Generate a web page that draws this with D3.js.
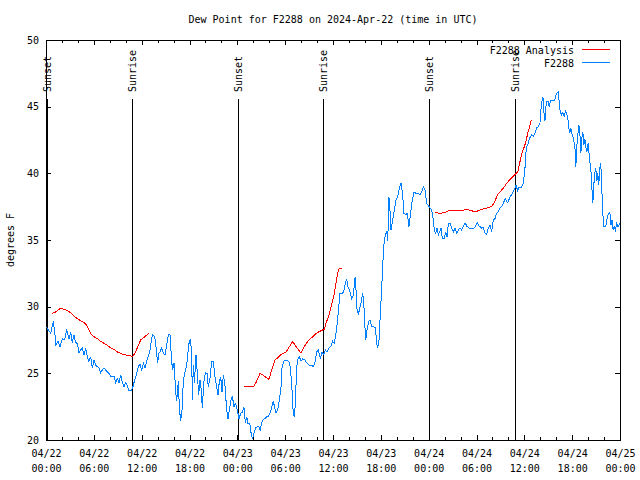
<!DOCTYPE html>
<html>
<head>
<meta charset="utf-8">
<script src="https://cdn.jsdelivr.net/npm/d3@7"></script>
<style>
body { margin: 0; background: #fff; }
svg text { font-family: "DejaVu Sans Mono", monospace; font-size: 10px; fill: #000; }
</style>
</head>
<body>
<div id="chart"></div>
<script>
// observed dew point (hours after 04/22 00:00 UTC, deg F), one array per day
var obsDay1 = [[0.08,28.45],[0.59,28.0],[0.92,28.9],[1.13,27.9],[1.25,27.1],[1.51,27.4],[1.76,27.0],[2.05,27.6],[2.34,27.5],[2.59,28.3],[2.89,27.6],[3.09,28.1],[3.30,27.3],[3.51,27.9],[3.72,27.3],[3.93,27.25],[4.14,26.5],[4.35,26.75],[4.56,26.9],[4.77,26.4],[4.98,26.9],[5.19,26.2],[5.39,25.9],[5.60,26.25],[5.81,25.4],[6.02,26.0],[6.23,25.6],[6.44,25.5],[6.65,25.4],[6.86,25.05],[7.07,25.25],[7.28,25.4],[7.49,25.25],[7.69,25.1],[7.90,25.0],[8.11,24.8],[8.53,24.8],[8.74,24.3],[8.95,24.6],[9.16,24.3],[9.37,24.9],[9.57,24.3],[9.78,24.0],[9.99,24.3],[10.20,24.1],[10.41,23.7],[10.70,23.7],[10.91,24.0],[11.12,24.5],[11.33,24.9],[11.58,25.5],[11.79,25.7],[12.0,25.25],[12.21,25.75],[12.42,25.4],[12.63,25.9],[12.84,26.3],[13.05,26.75],[13.21,27.4],[13.34,27.9],[13.63,27.75],[13.84,26.75],[14.0,25.75],[14.17,26.5],
  [14.30,26.6],[14.51,26.9],[14.72,26.5],[14.93,26.4],[15.14,27.1],[15.35,27.9],[15.55,27.9],[15.76,25.9],[15.89,25.25],[16.06,25.75],[16.27,23.6],[16.39,22.9],[16.60,24.4],[16.72,22.5],[16.89,21.4],[17.06,22.25],[17.23,24.5],[17.44,25.1],[17.65,25.6],[17.77,26.4],[17.94,27.25],[18.11,27.55],[18.27,26.5],[18.36,23.0],[18.48,25.6],[18.61,24.25],[18.82,26.4],[18.98,25.0],[19.15,23.4],[19.32,24.5],[19.48,23.75],[19.61,22.4],[19.78,24.25],[19.99,25.05],[20.20,25.0],[20.36,24.0],[20.57,24.6],[20.78,25.9],[20.99,25.9],[21.20,24.75],[21.41,24.0],[21.58,23.4],[21.74,24.4],[21.91,24.75],[22.08,23.6],[22.25,24.9],[22.45,24.1],[22.66,22.25],[22.83,21.6],[23.0,22.25],[23.17,22.9],[23.37,23.3],[23.58,22.5],[23.79,22.75]];
var obsDay2 = [[24.0,22.25],[24.21,21.6],[24.42,22.0],[24.63,22.1],[24.83,22.45],[25.0,21.3],[25.17,21.75],[25.33,21.25],[25.58,21.2],[25.7,20.6],[25.91,20.05],[26.08,20.5],[26.29,20.9],[26.5,21.0],[26.71,21.0],[26.87,20.75],[27.04,21.25],[27.25,21.55],[27.46,21.6],[27.67,21.75],[27.88,21.75],[28.09,22.0],[28.3,22.4],[28.5,22.9],[28.71,22.4],
  [28.85,22.0],[29.06,22.25],[29.27,23.0],[29.48,24.0],[29.6,25.4],[29.81,25.9],[30.1,26.0],[30.44,25.9],[30.65,25.5],[30.86,23.75],[31.02,21.9],[31.15,21.8],[31.28,22.75],[31.44,25.4],[31.61,26.1],[31.78,26.25],[31.99,25.9],[32.2,26.1],[32.49,26.0],[32.74,25.75],[33.03,25.6],[33.32,25.6],[33.57,25.5],[33.78,25.9],[33.95,26.6],[34.16,26.75],[34.41,26.1],[34.62,26.6],[34.83,26.4],[35.04,26.75],[35.25,26.6],[35.46,26.9],[35.71,27.0],[35.96,27.4],[36.17,27.25],[36.38,28.0],[36.59,29.1],[36.76,30.25],[36.88,31.0],[37.13,31.0],[37.34,31.1],[37.55,31.75],[37.72,32.05],[37.88,31.5],[38.14,31.1],[38.35,30.6],[38.56,30.9],[38.77,32.2],[38.89,31.25],[39.02,29.75],[39.18,29.4],[39.39,30.0],[39.56,30.4],[39.72,31.0],[39.85,30.4],[39.98,28.75],[40.1,27.5],[40.27,28.25],[40.48,28.9],[40.65,29.0],[40.86,28.5],[41.11,28.5],[41.32,28.4],[41.48,27.25],[41.61,26.9],[41.78,27.5],[41.94,29.5],[42.11,31.4],[42.24,33.1],[42.36,34.5],[42.57,35.4],[42.74,35.6],[42.87,34.9],[43.0,38.25],[43.12,37.6],
  [43.27,35.75],[43.48,36.5],[43.7,37.25],[43.9,38.0],[44.11,38.25],[44.32,38.9],[44.53,39.25],[44.74,38.4],[44.9,37.0],[45.11,36.9],[45.32,37.0],[45.53,36.0],[45.74,37.0],[45.95,38.0],[46.16,38.6],[46.41,38.5],[46.7,38.5],[46.91,38.4],[47.12,38.6],[47.33,39.0],[47.54,38.75],[47.75,37.75],[47.96,37.6]];
var obsDay3 = [[48.17,37.4],[48.38,37.25],[48.59,36.5],[48.71,35.75],[48.88,35.5],[49.05,35.9],[49.22,35.4],[49.38,35.6],[49.55,35.9],[49.71,35.1],[49.97,35.1],[50.13,35.6],[50.3,35.25],[50.47,36.25],[50.68,36.25],[50.89,35.9],[51.1,35.6],[51.31,35.9],[51.52,35.5],[51.72,35.75],[51.93,35.9],[52.14,35.75],[52.35,36.0],[52.56,36.3],[52.77,36.05],[53.06,35.9],[53.4,35.9],[53.69,35.9],[53.94,36.1],[54.11,36.3],[54.24,36.1],[54.45,36.0],[54.65,35.9],[54.86,35.95],[55.07,35.5],[55.28,35.4],[55.49,35.9],[55.7,36.1],[55.9,35.6],[56.11,36.5],[56.32,36.6],[56.53,37.0],[56.74,37.1],[56.95,37.4],[57.16,37.5],[57.37,37.75],
  [57.58,38.1],[57.91,37.8],[58.2,38.2],[58.5,38.5],[58.83,38.9],[58.95,39.1],[59.17,38.7],[59.33,38.95],[59.58,38.9],[59.87,39.25],[60.08,40.4],[60.21,41.6],[60.29,42.0],[60.5,42.25],[60.63,42.6],[60.92,42.9],[61.13,42.75],[61.33,43.0],[61.54,43.4],[61.75,43.5],[61.96,43.75],[62.08,44.75],[62.21,45.4],[62.33,45.75],[62.46,44.6],[62.58,43.9],[62.71,45.0],[62.83,45.4],[63.0,45.4],[63.12,45.0],[63.29,45.5],[63.62,45.5],[63.83,45.5],[64.04,46.0],[64.25,46.1],[64.37,45.4],[64.5,44.6],[64.67,44.4],[64.83,44.6],[65.0,44.25],[65.17,44.75],[65.34,44.4],[65.5,43.9],[65.67,43.0],[65.84,43.4],[66.0,42.9],[66.17,42.6],[66.34,42.0],[66.46,40.5],[66.59,42.1],[66.71,42.9],[66.84,43.6],[66.96,43.1],[67.09,41.5],[67.21,42.6],[67.34,43.1],[67.46,42.1],[67.59,42.6],[67.71,42.0],[67.84,41.6],[68.0,42.25],[68.21,40.9],[68.34,40.4],[68.46,39.1],[68.59,37.75],[68.71,39.1],[68.84,40.0],[68.96,40.4],[69.09,39.4],[69.21,40.0],[69.34,39.1],[69.46,40.4],[69.59,40.75],[69.71,38.9],[69.84,37.1],[69.96,36.0],[70.21,36.0],[70.38,36.6],[70.55,37.0],[70.72,37.1],[70.88,36.1],[71.0,36.5],[71.13,35.75],[71.26,36.0],[71.42,35.75],[71.59,36.25],[71.76,36.0],[71.97,36.25]];

// analysis runs (hours, deg F)
var anaRun1 = [[0.79,29.5],[1.21,29.6],[1.63,29.8],[1.92,29.9],[2.26,29.8],[2.68,29.7],[3.09,29.55],[3.51,29.3],[3.93,29.1],[4.35,28.95],[4.77,28.8],[5.1,28.6],[5.39,28.25],[5.69,27.9],[6.02,27.75],[6.44,27.6],[6.86,27.4],[7.28,27.25],[7.69,27.1],[8.11,26.9],[8.53,26.8],[8.95,26.6],[9.37,26.5],[9.78,26.4],[10.2,26.35],[10.7,26.3],[10.91,26.3],[11.24,26.6],[11.58,27.1],[11.87,27.5],[12.29,27.7],[12.71,27.9],[12.96,28.0]];
var anaRun2 = [[24.84,24.05],[26.1,24.05],[26.42,24.4],[26.84,25.0],[27.25,24.85],[27.97,24.55],[28.3,25.25],[28.71,26.0],[29.13,26.2],[29.48,26.4],[30.1,26.6],[30.53,27.0],[30.94,27.4],[31.36,27.0],[31.99,26.5],[32.4,27.0],[32.83,27.4],[33.45,27.75],[33.87,28.0],[34.5,28.2],[34.9,28.3],[35.2,28.9],[35.46,29.25],[35.75,30.0],[35.96,30.5],[36.17,31.0],[36.38,31.75],[36.59,32.5],[36.8,32.9],[37.09,32.9]];
var anaRun3 = [[48.8,37.05],[49.42,37.0],[50.05,37.05],[50.47,37.2],[50.89,37.25],[51.52,37.2],[52.14,37.2],[52.77,37.3],[53.4,37.2],[53.82,37.1],[54.24,37.2],[54.65,37.3],[55.28,37.4],[55.9,37.5],[56.32,37.9],[56.62,38.4],[56.95,38.6],[57.37,38.9],[57.79,39.25],[58.12,39.5],[58.83,39.9],[59.17,40.1],[59.46,40.9],[59.75,41.6],[60.0,42.0],[60.21,42.4],[60.42,43.0],[60.63,43.4],[60.83,43.9],[61.0,44.0]];

// sunrise / sunset (hours)
var sunLabels = ["Sunset", "Sunrise", "Sunset", "Sunrise", "Sunset", "Sunrise"];
var sunHours = [0.07, 10.8, 24.1, 34.8, 48.1, 58.85];

var yTicks = [20, 25, 30, 35, 40, 45, 50];
var legendNames = ["F2288 Analysis", "F2288"];
var legendColors = ["#ff0000", "#0080ff"];

var margin = {top: 40, right: 20, bottom: 40, left: 46},
  width = 640 - margin.left - margin.right,
  height = 480 - margin.top - margin.bottom;

var start = new Date(Date.UTC(2024, 3, 22)),
  end = new Date(Date.UTC(2024, 3, 25));
function toDate(h) { return new Date(start.getTime() + h * 3600000); }

var root = d3.select("#chart").append("svg")
  .attr("width", 640)
  .attr("height", 480);

var svg = root.append("g")
  .attr("transform", "translate(" + margin.left + "," + margin.top + ")");

var x = d3.scaleUtc().domain([start, end]).range([0, width]);
var y = d3.scaleLinear().domain([20, 50]).range([height, 0]);

var major = d3.utcHour.every(6).range(start, new Date(end.getTime() + 1));
var minor = d3.utcHour.every(2).range(start, end).filter(function(d) { return d.getUTCHours() % 6 != 0; });
var fmtDay = d3.utcFormat("%m/%d"), fmtTime = d3.utcFormat("%H:%M");

// bottom axis with two-line labels
var gx = svg.append("g")
  .attr("transform", "translate(0," + height + ")")
  .call(d3.axisBottom(x).tickValues(major).tickSizeInner(-5).tickSizeOuter(0).tickPadding(10).tickFormat(fmtDay));
gx.selectAll(".tick text").each(function(d) {
  var t = d3.select(this);
  t.text(null);
  t.append("tspan").attr("x", 0).text(fmtDay(d));
  t.append("tspan").attr("x", 0).attr("dy", "1.5em").text(fmtTime(d));
});
svg.append("g")
  .attr("transform", "translate(0," + height + ")")
  .call(d3.axisBottom(x).tickValues(minor).tickSizeInner(-3).tickSizeOuter(0).tickFormat(""));
// mirrored top ticks
svg.append("g")
  .call(d3.axisTop(x).tickValues(major).tickSizeInner(-5).tickSizeOuter(0).tickFormat(""));
svg.append("g")
  .call(d3.axisTop(x).tickValues(minor).tickSizeInner(-3).tickSizeOuter(0).tickFormat(""));

// y axes
svg.append("g")
  .call(d3.axisLeft(y).tickValues(yTicks).tickSizeInner(-5).tickSizeOuter(0).tickPadding(7));
svg.append("g")
  .attr("transform", "translate(" + width + ",0)")
  .call(d3.axisRight(y).tickValues(yTicks).tickSizeInner(-5).tickSizeOuter(0).tickFormat(""));

svg.selectAll(".domain").remove();
svg.selectAll(".tick line").attr("stroke", "#000").attr("shape-rendering", "crispEdges");
svg.selectAll(".tick text").attr("font-family", null).attr("font-size", null);

// frame
svg.append("rect")
  .attr("x", 0.5).attr("y", 0.5)
  .attr("width", width).attr("height", height)
  .attr("fill", "none").attr("stroke", "#000")
  .attr("shape-rendering", "crispEdges");

// sunrise / sunset markers
var sun = svg.selectAll(".sun")
  .data(sunHours)
  .enter().append("g")
  .attr("class", "sun");
sun.append("line")
  .attr("x1", function(d) { return Math.round(x(toDate(d))) + 0.5; })
  .attr("x2", function(d) { return Math.round(x(toDate(d))) + 0.5; })
  .attr("y1", 59).attr("y2", height)
  .attr("stroke", "#000")
  .attr("shape-rendering", "crispEdges");
sun.append("text")
  .attr("transform", function(d) { return "translate(" + (x(toDate(d)) + 4) + ",52) rotate(-90)"; })
  .text(function(d, i) { return sunLabels[i]; });

// data lines
var line = d3.line()
  .x(function(d) { return x(toDate(d[0])); })
  .y(function(d) { return y(d[1]); });

[anaRun1, anaRun2, anaRun3].forEach(function(run) {
  svg.append("path")
    .datum(run)
    .attr("fill", "none")
    .attr("stroke", legendColors[0])
    .attr("stroke-width", 1)
    .attr("shape-rendering", "crispEdges")
    .attr("d", line);
});
svg.append("path")
  .datum(obsDay1.concat(obsDay2, obsDay3))
  .attr("fill", "none")
  .attr("stroke", legendColors[1])
  .attr("stroke-width", 1)
  .attr("shape-rendering", "crispEdges")
  .attr("d", line);

// legend
var legend = svg.selectAll(".legend")
  .data(legendNames)
  .enter().append("g")
  .attr("class", "legend")
  .attr("transform", function(d, i) { return "translate(0," + (i * 13) + ")"; });
legend.append("text")
  .attr("x", 528).attr("y", 13.5)
  .attr("text-anchor", "end")
  .text(function(d) { return d; });
legend.append("line")
  .attr("x1", 536).attr("x2", 564)
  .attr("y1", 9.5).attr("y2", 9.5)
  .attr("stroke", function(d, i) { return legendColors[i]; })
  .attr("shape-rendering", "crispEdges");

// title and y label
root.append("text")
  .attr("x", margin.left + width / 2).attr("y", 23)
  .attr("text-anchor", "middle")
  .text("Dew Point for F2288 on 2024-Apr-22 (time in UTC)");
root.append("text")
  .attr("transform", "translate(14,240) rotate(-90)")
  .attr("text-anchor", "middle")
  .text("degrees F");
</script>
</body>
</html>
